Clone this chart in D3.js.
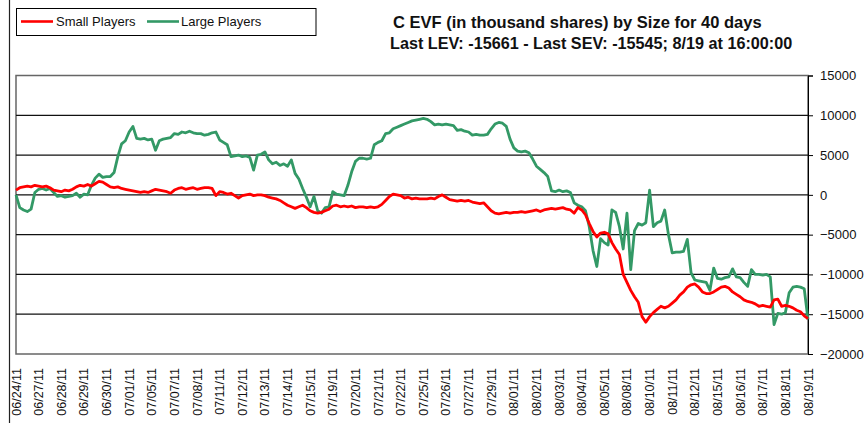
<!DOCTYPE html>
<html>
<head>
<meta charset="utf-8">
<script src="https://cdn.jsdelivr.net/npm/d3@7"></script>
<style>
  body { margin: 0; background: #fff; }
  svg { display: block; font-family: Arial, "Liberation Sans", sans-serif; }
</style>
</head>
<body>
<svg id="chart"></svg>
<script>
// trading days shown under the x axis
const dateLabels = ['06/24/11', '06/27/11', '06/28/11', '06/29/11', '06/30/11', '07/01/11', '07/05/11',
  '07/07/11', '07/08/11', '07/11/11', '07/12/11', '07/13/11', '07/14/11', '07/15/11', '07/19/11',
  '07/20/11', '07/21/11', '07/22/11', '07/25/11', '07/26/11', '07/27/11', '07/29/11', '08/01/11',
  '08/02/11', '08/03/11', '08/04/11', '08/05/11', '08/08/11', '08/10/11', '08/11/11', '08/12/11',
  '08/15/11', '08/16/11', '08/17/11', '08/18/11', '08/19/11'];

// 6 readings per day interval (thousand shares)
const smallPlayers = [
  600, 900, 1000, 1100, 1000, 1200, 1100, 1000, 1100, 900, 600, 500, 400, 600, 500, 700, 1000, 1200,
  1100, 1300, 1100, 1400, 1700, 1600, 1300, 1000, 900, 1000, 800, 700, 600, 500, 400, 300, 400, 300,
  500, 700, 600, 500, 400, 200, 600, 800, 900, 700, 800, 900, 700, 800, 900, 900, 800, -100,
  400, 300, 100, 200, -100, -400, -100, 0, 100, -100, 0, 0, -100, -300, -400, -500, -700, -1000,
  -1300, -1500, -1700, -1500, -1300, -1600, -2000, -2200, -2300, -2200, -2000, -1800, -1400, -1300, -1500, -1400,
  -1500, -1400, -1600, -1500, -1500, -1600, -1500, -1600, -1500, -1200, -700, -200, 100, 0, -100, -400,
  -300, -500, -400, -500, -500, -500, -400, -500, -200, 0, -300, -600, -700, -800, -700, -800,
  -700, -900, -1000, -1100, -1000, -1500, -2000, -2300, -2400, -2300, -2200, -2300, -2200, -2200, -2100, -2200,
  -2100, -2000, -1900, -2100, -1900, -1800, -1700, -1800, -1700, -1600, -1800, -1900, -2300, -1600, -1900, -2500,
  -3600, -4600, -5300, -4800, -4700, -4900, -6000, -6800, -7500, -10000, -11000, -12000, -12800, -13500, -15300, -16000,
  -15300, -14800, -14400, -14000, -14200, -14000, -13600, -13200, -12600, -12200, -11600, -11300, -11200, -11600, -12200, -12400,
  -12400, -12200, -11900, -11600, -11500, -11700, -12200, -12500, -12800, -13200, -13400, -13500, -13700, -14000, -13900, -14000,
  -14100, -13200, -13100, -14000, -13900, -14000, -14200, -14500, -14700, -15200, -15545];

const largePlayers = [
  0, -1600, -1900, -2100, -1800, 300, 700, 800, 600, 800, 300, -200, -100, -300, -200, -100, 200, -300,
  100, 0, 1200, 2100, 2600, 2200, 2300, 2300, 2800, 4800, 6400, 6800, 7900, 8600, 7100, 7000, 7100, 6900,
  7000, 5600, 6800, 7000, 7100, 7200, 7700, 7600, 7900, 7800, 8000, 7800, 7700, 7700, 7500, 7600, 7800, 7900,
  6900, 6600, 6300, 4800, 4900, 5000, 4800, 4900, 4700, 3100, 5000, 5100, 5400, 4400, 3900, 4100, 3700, 3900,
  3600, 4400, 2700, 2000, 800, -300, -1500, -200, -2000, -2300, -1600, -1500, 400, 100, 0, -100,
  1200, 2900, 4200, 4600, 4600, 4500, 4600, 6300, 6600, 6800, 7700, 7800, 8300, 8500, 8700, 8900,
  9100, 9300, 9400, 9500, 9600, 9500, 9200, 8800, 8900, 8800, 8900, 8800, 8700, 8100, 8200, 8000,
  7900, 7500, 7600, 7500, 7500, 7600, 8300, 8900, 9100, 9000, 8600, 7000, 5900, 5500, 5400, 5500,
  5300, 4500, 3600, 3200, 2800, 2300, 500, 400, 600, 400, 500, 300, -1000, -1300, -1500, -2000,
  -4000, -7000, -9000, -5500, -6000, -6300, -1900, -2200, -4000, -6800, -2300, -9400, -4500, -3600, -3800, -3500,
  600, -4000, -3500, -3300, -1900, -5000, -7300, -7200, -7200, -7100, -5600, -9800, -10700, -10800, -10900, -11000,
  -12000, -9200, -10500, -10600, -10400, -10300, -9300, -10300, -10400, -11000, -11500, -9400, -10000, -10000, -10100, -10000,
  -10300, -16300, -14900, -15000, -14800, -12300, -11600, -11500, -11600, -11800, -15661];

const yTickValues = [-20000, -15000, -10000, -5000, 0, 5000, 10000, 15000];
const seriesNames = ['Small Players', 'Large Players'];
const seriesColors = ['#ff0000', '#339966'];
const titleLines = ['C EVF (in thousand shares) by Size for 40 days',
  'Last LEV: -15661 - Last SEV: -15545; 8/19 at 16:00:00'];

class EvfChart {

  constructor(_config, _small, _large) {
    this.config = {
      parentElement: _config.parentElement,
      containerWidth: _config.containerWidth,
      containerHeight: _config.containerHeight,
      plot: {left: 16, right: 808, top: 75.5, bottom: 354}
    }
    this.small = _small;
    this.large = _large;
    this.initVis();
  }

  initVis() {
    let vis = this;
    let p = vis.config.plot;

    vis.svg = d3.select(vis.config.parentElement)
      .attr('width', vis.config.containerWidth)
      .attr('height', vis.config.containerHeight);

    vis.xBand = d3.scalePoint().domain(dateLabels).range([p.left, p.right]);
    vis.xIdx = d3.scaleLinear().domain([0, vis.small.length - 1]).range([p.left, p.right]);
    vis.y = d3.scaleLinear().domain([-20000, 15000]).range([p.bottom, p.top]);

    vis.renderVis();
  }

  renderVis() {
    let vis = this;
    let p = vis.config.plot;

    // outer frame edge on the left
    vis.svg.append('line')
      .attr('x1', 9.5).attr('x2', 9.5).attr('y1', 0).attr('y2', vis.config.containerHeight)
      .attr('stroke', '#222').attr('stroke-width', 1.2);

    // plot area box
    vis.svg.append('rect')
      .attr('x', p.left).attr('y', p.top)
      .attr('width', p.right - p.left).attr('height', p.bottom - p.top)
      .attr('fill', 'none').attr('stroke', '#666').attr('stroke-width', 1.5);

    vis.svg.append('g')
      .selectAll('line')
      .data(yTickValues.filter(d => d > -20000 && d < 15000))
      .join('line')
      .attr('x1', p.left).attr('x2', p.right)
      .attr('y1', d => vis.y(d)).attr('y2', d => vis.y(d))
      .attr('stroke', '#111').attr('stroke-width', 1.2);

    // right value axis
    let yAxis = vis.svg.append('g')
      .attr('transform', `translate(${p.right}, 0)`)
      .call(d3.axisRight(vis.y).tickValues(yTickValues).tickSize(5).tickPadding(7).tickFormat(d3.format('d')));
    yAxis.select('.domain').attr('stroke', '#000');
    yAxis.selectAll('text').attr('font-size', 13).attr('font-family', 'Arial, "Liberation Sans", sans-serif').attr('fill', '#111');

    // date labels
    vis.svg.append('g')
      .selectAll('text')
      .data(dateLabels)
      .join('text')
      .attr('transform', d => `translate(${vis.xBand(d)}, 368) rotate(-90)`)
      .attr('dy', '0.36em')
      .attr('text-anchor', 'end')
      .attr('font-size', 12.5)
      .attr('fill', '#111')
      .text(d => d);

    let line = d3.line()
      .x((d, i) => vis.xIdx(i))
      .y(d => vis.y(d));

    vis.svg.append('g')
      .selectAll('path')
      .data([vis.large, vis.small])
      .join('path')
      .attr('d', d => line(d))
      .attr('fill', 'none')
      .attr('stroke', (d, i) => i == 0 ? seriesColors[1] : seriesColors[0])
      .attr('stroke-width', 2.8)
      .attr('stroke-linejoin', 'round');

    // legend
    let legend = vis.svg.append('g');
    legend.append('rect')
      .attr('x', 16.5).attr('y', 8.5).attr('width', 299.5).attr('height', 27)
      .attr('fill', '#fff').attr('stroke', '#000').attr('stroke-width', 1);
    let items = [{x: 21, tx: 56}, {x: 147, tx: 181}];
    items.forEach((it, i) => {
      legend.append('line')
        .attr('x1', it.x).attr('x2', it.x + 32).attr('y1', 21.5).attr('y2', 21.5)
        .attr('stroke', seriesColors[i]).attr('stroke-width', 2.6);
      legend.append('text')
        .attr('x', it.tx).attr('y', 26)
        .attr('font-size', 13).attr('fill', '#111')
        .text(seriesNames[i]);
    });

    vis.svg.append('text')
      .attr('x', 393).attr('y', 28)
      .attr('font-size', 16.5).attr('font-weight', 'bold').attr('fill', '#111')
      .text(titleLines[0]);
    vis.svg.append('text')
      .attr('x', 390).attr('y', 49)
      .attr('font-size', 16.2).attr('font-weight', 'bold').attr('fill', '#111')
      .text(titleLines[1]);
  }
}

let chart = new EvfChart({parentElement: '#chart', containerWidth: 867, containerHeight: 423}, smallPlayers, largePlayers);
</script>
</body>
</html>
